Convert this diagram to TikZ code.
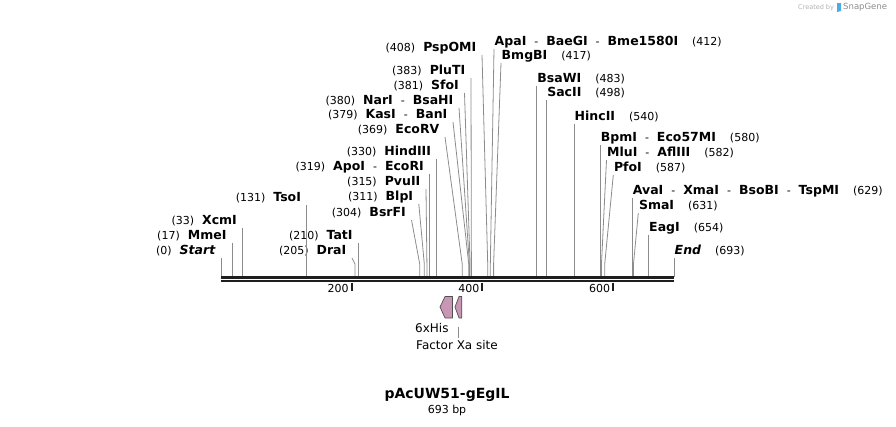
\documentclass[tikz,border=0pt]{standalone}
\usepackage{fontspec}
\setmainfont{DejaVu Sans}

\begin{document}
\begin{tikzpicture}[x=1pt,y=-1pt,
  cut/.style={sg_gray,line width=0.8pt},
  lsite/.style={anchor=south east,inner xsep=5.5pt,inner ysep=1pt,text height=8pt,text depth=2pt,font=\fontsize{11}{13}\selectfont},
  rsite/.style={anchor=south west,inner xsep=0.5pt,inner ysep=1pt,text height=8pt,text depth=2pt,font=\fontsize{11}{13}\selectfont},
  feat/.style={fill=sg_pink,draw=sg_edge,line width=0.7pt,line join=round},
  featname/.style={anchor=west,inner xsep=0pt,inner ysep=2pt,font=\fontsize{12}{14}\selectfont},
  tickno/.style={anchor=north east,inner xsep=3pt,inner ysep=1.5pt,font=\fontsize{11}{13}\selectfont},
  tick/.style={sg_dark,line width=2pt}]
\definecolor{sg_gray}{RGB}{140,140,140} %#8C8C8C
\definecolor{sg_dark}{RGB}{30,30,30}    %#1E1E1E
\definecolor{sg_pink}{RGB}{201,150,182} %#C996B6
\definecolor{sg_edge}{RGB}{80,80,80}    %#505050
\definecolor{sg_blue}{RGB}{80,170,230}  %#50AAE6

\useasboundingbox (0,0) rectangle (896,426);

\def\xo{221}
\def\bp{0.6537}
\def\yk{264}
\def\lgap{\hspace{8pt}}
\def\rgap{\hspace{14pt}}
\def\sep{\hspace{8pt}-\hspace{8pt}}
\def\nm#1{{\fontsize{12.5}{13}\selectfont\bfseries #1}}

\coordinate (bbA) at (\xo,277.3);
\coordinate (bbB) at ({\xo+693*\bp},277.3);
\coordinate (bbC) at (\xo,281.3);
\coordinate (bbD) at ({\xo+693*\bp},281.3);

\coordinate (t200) at ({\xo+200*\bp},282.5);
\coordinate (t400) at ({\xo+400*\bp},282.5);
\coordinate (t600) at ({\xo+600*\bp},282.5);

\coordinate (kDraI)   at ({\xo+205*\bp},\yk);
\coordinate (kBsrFI)  at ({\xo+304*\bp},\yk);
\coordinate (kBlpI)   at ({\xo+311*\bp},\yk);
\coordinate (kPvuII)  at ({\xo+315*\bp},\yk);
\coordinate (kEcoRV)  at ({\xo+369*\bp},\yk);
\coordinate (kKasI)   at ({\xo+379*\bp},\yk);
\coordinate (kNarI)   at ({\xo+380*\bp},\yk);
\coordinate (kSfoI)   at ({\xo+381*\bp},\yk);
\coordinate (kPluTI)  at ({\xo+383*\bp},\yk);
\coordinate (kPspOMI) at ({\xo+408*\bp},\yk);
\coordinate (kApaI)   at ({\xo+412*\bp},\yk);
\coordinate (kBmgBI)  at ({\xo+417*\bp},\yk);
\coordinate (kMluI)   at ({\xo+582*\bp},\yk);
\coordinate (kPfoI)   at ({\xo+587*\bp},\yk);
\coordinate (kSmaI)   at ({\xo+631*\bp},\yk);

% sites left of their line
\node[lsite] (Start)  at (\xo,258) {(0)\lgap\nm{\itshape Start}};
\node[lsite] (MmeI)   at ({\xo+17*\bp},243) {(17)\lgap\nm{MmeI}};
\node[lsite] (XcmI)   at ({\xo+33*\bp},228) {(33)\lgap\nm{XcmI}};
\node[lsite] (TsoI)   at ({\xo+131*\bp},205) {(131)\lgap\nm{TsoI}};
\node[lsite] (DraI)   at (352,258) {(205)\lgap\nm{DraI}};
\node[lsite] (TatI)   at ({\xo+210*\bp},243) {(210)\lgap\nm{TatI}};
\node[lsite] (BsrFI)  at (411.5,220) {(304)\lgap\nm{BsrFI}};
\node[lsite] (BlpI)   at (418.8,204) {(311)\lgap\nm{BlpI}};
\node[lsite] (PvuII)  at (426,189) {(315)\lgap\nm{PvuII}};
\node[lsite] (ApoI)   at ({\xo+319*\bp},174) {(319)\lgap\nm{ApoI}\sep\nm{EcoRI}};
\node[lsite] (HindIII) at ({\xo+330*\bp},159) {(330)\lgap\nm{HindIII}};
\node[lsite] (EcoRV)  at (445,137) {(369)\lgap\nm{EcoRV}};
\node[lsite] (KasI)   at (453,122) {(379)\lgap\nm{KasI}\sep\nm{BanI}};
\node[lsite] (NarI)   at (459,108) {(380)\lgap\nm{NarI}\sep\nm{BsaHI}};
\node[lsite] (SfoI)   at (464.5,93) {(381)\lgap\nm{SfoI}};
\node[lsite] (PluTI)  at (471,78) {(383)\lgap\nm{PluTI}};
\node[lsite] (PspOMI) at (482,55) {(408)\lgap\nm{PspOMI}};

% sites right of their line
\node[rsite] (ApaI)   at (494,49) {\nm{ApaI}\sep\nm{BaeGI}\sep\nm{Bme1580I}\rgap(412)};
\node[rsite] (BmgBI)  at (501,63) {\nm{BmgBI}\rgap(417)};
\node[rsite] (BsaWI)  at ({\xo+483*\bp},86) {\nm{BsaWI}\rgap(483)};
\node[rsite] (SacII)  at ({\xo+498*\bp},100) {\nm{SacII}\rgap(498)};
\node[rsite] (HincII) at ({\xo+540*\bp},124) {\nm{HincII}\rgap(540)};
\node[rsite] (BpmI)   at ({\xo+580*\bp},145) {\nm{BpmI}\sep\nm{Eco57MI}\rgap(580)};
\node[rsite] (MluI)   at (606.5,160) {\nm{MluI}\sep\nm{AflIII}\rgap(582)};
\node[rsite] (PfoI)   at (613.3,175) {\nm{PfoI}\rgap(587)};
\node[rsite] (AvaI)   at ({\xo+629*\bp},198) {\nm{AvaI}\sep\nm{XmaI}\sep\nm{BsoBI}\sep\nm{TspMI}\rgap(629)};
\node[rsite] (SmaI)   at (638.3,213) {\nm{SmaI}\rgap(631)};
\node[rsite] (EagI)   at ({\xo+654*\bp},235) {\nm{EagI}\rgap(654)};
\node[rsite] (End)    at ({\xo+693*\bp},258) {\nm{\itshape End}\rgap(693)};

\draw[cut] (Start.south east) -- (Start.south east |- bbA);
\draw[cut] (MmeI.south east) -- (MmeI.south east |- bbA);
\draw[cut] (XcmI.south east) -- (XcmI.south east |- bbA);
\draw[cut] (TsoI.south east) -- (TsoI.south east |- bbA);
\draw[cut] (DraI.south east) -- (kDraI) -- (kDraI |- bbA);
\draw[cut] (TatI.south east) -- (TatI.south east |- bbA);
\draw[cut] (BsrFI.south east) -- (kBsrFI) -- (kBsrFI |- bbA);
\draw[cut] (BlpI.south east) -- (kBlpI) -- (kBlpI |- bbA);
\draw[cut] (PvuII.south east) -- (kPvuII) -- (kPvuII |- bbA);
\draw[cut] (ApoI.south east) -- (ApoI.south east |- bbA);
\draw[cut] (HindIII.south east) -- (HindIII.south east |- bbA);
\draw[cut] (EcoRV.south east) -- (kEcoRV) -- (kEcoRV |- bbA);
\draw[cut] (KasI.south east) -- (kKasI) -- (kKasI |- bbA);
\draw[cut] (NarI.south east) -- (kNarI) -- (kNarI |- bbA);
\draw[cut] (SfoI.south east) -- (kSfoI) -- (kSfoI |- bbA);
\draw[cut] (PluTI.south east) -- (kPluTI) -- (kPluTI |- bbA);
\draw[cut] (PspOMI.south east) -- (kPspOMI) -- (kPspOMI |- bbA);
\draw[cut] (ApaI.south west) -- (kApaI) -- (kApaI |- bbA);
\draw[cut] (BmgBI.south west) -- (kBmgBI) -- (kBmgBI |- bbA);
\draw[cut] (BsaWI.south west) -- (BsaWI.south west |- bbA);
\draw[cut] (SacII.south west) -- (SacII.south west |- bbA);
\draw[cut] (HincII.south west) -- (HincII.south west |- bbA);
\draw[cut] (BpmI.south west) -- (BpmI.south west |- bbA);
\draw[cut] (MluI.south west) -- (kMluI) -- (kMluI |- bbA);
\draw[cut] (PfoI.south west) -- (kPfoI) -- (kPfoI |- bbA);
\draw[cut] (AvaI.south west) -- (AvaI.south west |- bbA);
\draw[cut] (SmaI.south west) -- (kSmaI) -- (kSmaI |- bbA);
\draw[cut] (EagI.south west) -- (EagI.south west |- bbA);
\draw[cut] (End.south west) -- (End.south west |- bbA);

\draw[sg_dark,line width=2.6pt] (bbA) -- (bbB);
\draw[sg_dark,line width=2.2pt] (bbC) -- (bbD);

\draw[tick] (t200) -- ++(0,8);
\draw[tick] (t400) -- ++(0,8);
\draw[tick] (t600) -- ++(0,8);
\node[tickno] (n200) at (t200) {200};
\node[tickno] (n400) at (t400) {400};
\node[tickno] (n600) at (t600) {600};

\draw[feat] (440,307) -- (445,296.5) -- (452.5,296.5) -- (452.5,318) -- (445,318) -- cycle;
\draw[feat] (455,307) -- (459,296.5) -- (461.8,296.5) -- (461.8,318) -- (459,318) -- cycle;
\node[featname] (his) at (415,328) {6xHis};
\node[featname] (fxa) at (416,345) {Factor Xa site};
\coordinate (fxaL) at (458.3,326.5);
\draw[cut] (fxaL) -- (fxaL |- fxa.north);

\node[font=\fontsize{14}{16}\selectfont\bfseries] (title) at (447,395) {pAcUW51-gEgIL};
\node[font=\fontsize{11}{13}\selectfont] (len) at (447,410) {693 bp};

\node[anchor=west,inner sep=0pt,font=\fontsize{6.5}{7}\selectfont,text=black!30] (credit) at (798,7.5) {Created by};
\fill[sg_blue] (837,3) -- (841,3) -- (841,11) -- (837,12) -- cycle;
\node[anchor=west,inner sep=0pt,font=\fontsize{8.5}{10}\selectfont,text=black!45] (sg) at (843,7.5) {SnapGene};

\end{tikzpicture}
\end{document}
